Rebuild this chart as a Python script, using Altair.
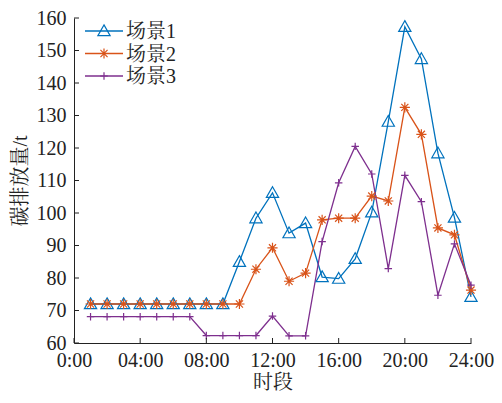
import altair as alt
import pandas as pd

hours = list(range(1, 25))
series_names = ["场景1", "场景2", "场景3"]
s1 = [72, 72, 72, 72, 72, 72, 72, 72, 72, 85, 98.4, 106.2, 93.8, 96.9, 80.3, 79.8,
      85.9, 100.2, 128.1, 157.3, 147.4, 118.4, 98.6, 74.2]
s2 = [72, 72, 72, 72, 72, 72, 72, 72, 72, 72, 82.7, 89.3, 79.0, 81.5, 97.9, 98.4,
      98.4, 105.2, 103.7, 132.5, 124.2, 95.4, 93.3, 76.3]
s3 = [68.1, 68.1, 68.1, 68.1, 68.1, 68.1, 68.1, 62.3, 62.3, 62.3, 62.3, 68.3, 62.2, 62.2,
      91.2, 109.3, 120.5, 112.0, 82.9, 111.6, 103.5, 74.7, 90.5, 77.8]
x_ticks = [0, 4, 8, 12, 16, 20, 24]
y_ticks = [60, 70, 80, 90, 100, 110, 120, 130, 140, 150, 160]

colors = ["#0072BD", "#D95319", "#7E2F8E"]
shapes = ["M0,-1L1,0.75L-1,0.75Z",
          "M-1,0L1,0M0,-1L0,1M-0.7,-0.7L0.7,0.7M-0.7,0.7L0.7,-0.7",
          "M-1,0L1,0M0,-1L0,1"]
sizes = [150, 56, 56]

W, H = 397, 325
FONT = "Liberation Serif, Noto Serif CJK SC, Noto Sans CJK SC"

rows = []
for name, vals in zip(series_names, [s1, s2, s3]):
    for h, v in zip(hours, vals):
        rows.append({"hour": h, "value": v, "series": name})
df = pd.DataFrame(rows)

color = alt.Color("series:N", scale=alt.Scale(domain=series_names, range=colors), legend=None)
shape = alt.Shape("series:N", scale=alt.Scale(domain=series_names, range=shapes), legend=None)
size = alt.Size("series:N", scale=alt.Scale(domain=series_names, range=sizes), legend=None)

xscale = alt.Scale(domain=[0, 24], nice=False, zero=False)
yscale = alt.Scale(domain=[60, 160], nice=False, zero=False)
xaxis = alt.Axis(values=x_ticks, ticks=False, grid=False, title="时段",
                 labelExpr="datum.value == 0 ? '0:00' : (datum.value < 10 ? '0' : '') + datum.value + ':00'",
                 labelPadding=7, titlePadding=2, labelFlush=False, labelOverlap=False)
yaxis = alt.Axis(values=y_ticks, ticks=False, grid=False, title="碳排放量/t",
                 labelPadding=8, titlePadding=6, labelOverlap=False, labelFlush=False)


def xenc():
    return alt.X("hour:Q", scale=xscale, axis=xaxis)


def yenc():
    return alt.Y("value:Q", scale=yscale, axis=yaxis)


base = alt.Chart(df)
lines = base.mark_line(strokeWidth=1.3).encode(x=xenc(), y=yenc(), color=color, order="hour:Q")
points = base.mark_point(filled=False, strokeWidth=1.2, opacity=1).encode(
    x=xenc(), y=yenc(), color=color, shape=shape, size=size)

xt = alt.Chart(pd.DataFrame({"hour": x_ticks})).mark_rule(color="#222", strokeWidth=1).encode(
    x=xenc(), y=alt.value(H), y2=alt.value(H - 5))
yt = alt.Chart(pd.DataFrame({"value": y_ticks})).mark_rule(color="#222", strokeWidth=1).encode(
    y=yenc(), x=alt.value(0), x2=alt.value(5))

legend_layers = []
for i, name in enumerate(series_names):
    ly = 13 + 22.5 * i
    d = alt.Data(values=[{"series": name}])
    legend_layers.append(alt.Chart(d).mark_rule(strokeWidth=1.3).encode(
        x=alt.value(11), x2=alt.value(49), y=alt.value(ly), color=color))
    legend_layers.append(alt.Chart(d).mark_point(filled=False, strokeWidth=1.2, opacity=1).encode(
        x=alt.value(30), y=alt.value(ly), color=color, shape=shape, size=size))
    legend_layers.append(alt.Chart(d).mark_text(align="left", baseline="middle", font=FONT,
                                                fontSize=20, color="#222").encode(
        x=alt.value(52), y=alt.value(ly + 1), text="series:N"))

chart = alt.layer(lines, points, xt, yt, *legend_layers).properties(
    width=W, height=H,
    autosize=alt.AutoSizeParams(type="none"),
    padding={"left": 66, "top": 10, "right": 23, "bottom": 52},
).configure_view(stroke=None).configure_axis(
    domainColor="#222", domainWidth=1, labelFont=FONT, titleFont=FONT,
    labelFontSize=20, titleFontSize=20, titleFontWeight="normal",
    labelColor="#222", titleColor="#222",
)

chart.save("out.html", embed_options={"renderer": "svg", "actions": False})
